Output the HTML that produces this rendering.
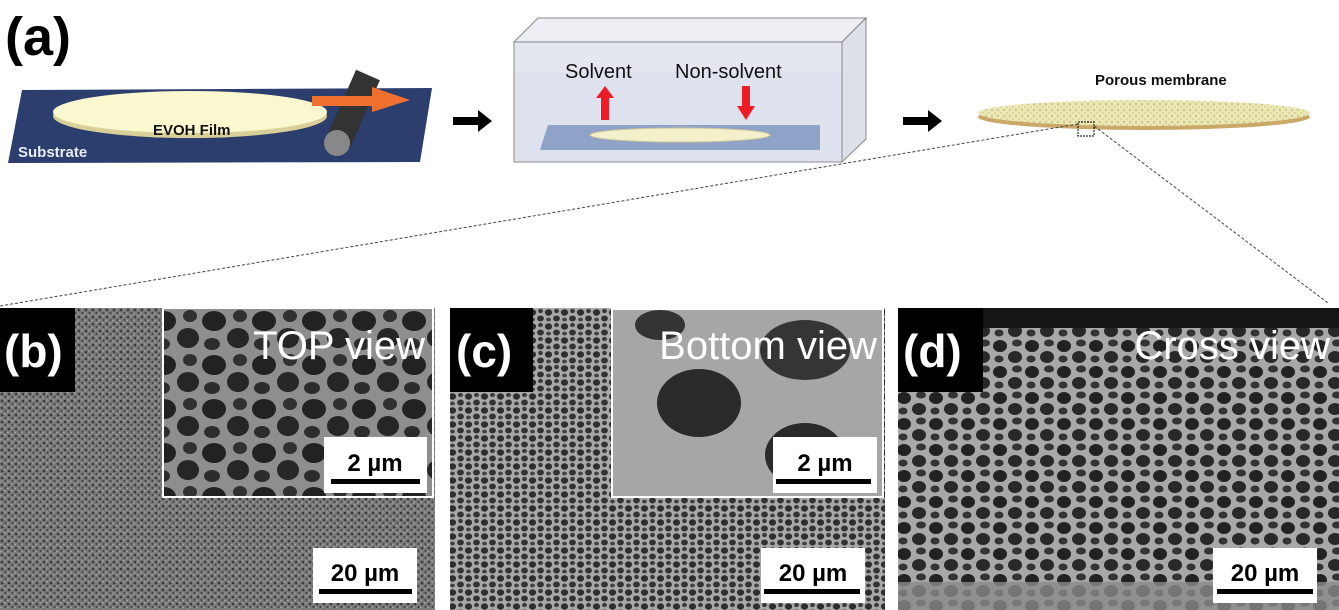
<!DOCTYPE html>
<html><head><meta charset="utf-8"><style>
html,body{margin:0;padding:0;background:#fff;}
svg{display:block}
text{font-family:"Liberation Sans",sans-serif}
</style></head><body>
<svg width="1339" height="610" viewBox="0 0 1339 610" xmlns="http://www.w3.org/2000/svg">
<defs>
<pattern id="fine" width="7" height="7" patternUnits="userSpaceOnUse">
<rect width="7" height="7" fill="#7a7a7a"/>
<circle cx="2" cy="2" r="1.3" fill="#3a3a3a"/><circle cx="5.5" cy="5" r="1.1" fill="#444"/>
<circle cx="5" cy="1" r="0.8" fill="#b0b0b0"/><circle cx="1" cy="5.5" r="0.9" fill="#a5a5a5"/>
</pattern>
<pattern id="cells" width="16" height="14" patternUnits="userSpaceOnUse">
<rect width="16" height="14" fill="#a8a8a8"/>
<ellipse cx="4.5" cy="4.5" rx="3.6" ry="3.2" fill="#2e2e2e"/>
<ellipse cx="12.5" cy="10.5" rx="3.4" ry="3" fill="#333"/>
<ellipse cx="12.5" cy="3" rx="2.4" ry="2.1" fill="#3a3a3a"/>
<ellipse cx="4.5" cy="11.5" rx="2.4" ry="1.9" fill="#404040"/>
</pattern>
<pattern id="big" width="32" height="26" patternUnits="userSpaceOnUse">
<rect width="32" height="26" fill="#a8a8a8"/>
<ellipse cx="8" cy="8" rx="7" ry="6" fill="#222"/>
<ellipse cx="23" cy="19" rx="7" ry="6" fill="#282828"/>
<ellipse cx="25" cy="5" rx="5" ry="3.5" fill="#333"/>
<ellipse cx="7" cy="21" rx="4.5" ry="3.5" fill="#333"/>
</pattern>
<pattern id="top" width="50" height="44" patternUnits="userSpaceOnUse">
<rect width="50" height="44" fill="#8e8e8e"/>
<ellipse cx="14" cy="13" rx="12" ry="10" fill="#222"/>
<ellipse cx="38" cy="30" rx="11" ry="10" fill="#262626"/>
<ellipse cx="40" cy="8" rx="7" ry="6" fill="#303030"/>
<ellipse cx="12" cy="36" rx="8" ry="6" fill="#2c2c2c"/>
</pattern>
<pattern id="mem" width="6" height="6" patternUnits="userSpaceOnUse">
<rect width="6" height="6" fill="#ece8b4"/><circle cx="2" cy="2" r="1.2" fill="#cdc58f"/><circle cx="5" cy="5" r="1" fill="#d8d19c"/>
</pattern>
</defs>

<text x="5" y="55" font-size="54" font-weight="bold" fill="#000">(a)</text>

<polygon points="22,90 432,88 420,162 8,163" fill="#2c3e6e"/>
<ellipse cx="190" cy="116" rx="137" ry="22" fill="#d9cf98"/>
<ellipse cx="190" cy="112" rx="137" ry="21" fill="#fbf8d0"/>
<text x="153" y="135" font-size="15" font-weight="bold" fill="#111">EVOH Film</text>
<text x="18" y="157" font-size="15" font-weight="bold" fill="#e8ecf5">Substrate</text>
<line x1="368" y1="75" x2="338" y2="143" stroke="#333" stroke-width="26"/>
<ellipse cx="337" cy="143" rx="13" ry="13" fill="#888"/>
<polygon points="312,96 372,96 372,87 410,100 372,112 372,106 312,106" fill="#f07030"/>

<polygon points="453,117 478,117 478,110 492,121 478,132 478,125 453,125" fill="#000"/>
<polygon points="903,117 928,117 928,110 942,121 928,132 928,125 903,125" fill="#000"/>

<polygon points="514,42 538,18 866,18 842,42" fill="#eceef4" stroke="#888" stroke-width="1"/>
<polygon points="842,42 866,18 866,139 842,162" fill="#dde0e8" stroke="#888" stroke-width="1"/>
<rect x="514" y="42" width="328" height="120" fill="#e4e7f0" stroke="#888" stroke-width="1"/>
<rect x="515" y="72" width="326" height="89" fill="#dde2ee"/>
<polygon points="548,125 820,125 820,150 540,150" fill="#8fa2c8"/>
<ellipse cx="680" cy="135" rx="90" ry="7" fill="#f4f0cc" stroke="#cfc796"/>
<text x="565" y="78" font-size="20" fill="#111">Solvent</text>
<text x="675" y="78" font-size="20" fill="#111">Non-solvent</text>
<polygon points="601,120 601,98 596,98 605,86 614,98 609,98 609,120" fill="#ee1c24"/>
<polygon points="742,86 742,106 737,106 746,120 755,106 750,106 750,86" fill="#ee1c24"/>

<text x="1095" y="85" font-size="15" font-weight="bold" fill="#111">Porous membrane</text>
<ellipse cx="1144" cy="117" rx="166" ry="13" fill="#c9a868"/>
<ellipse cx="1144" cy="113" rx="166" ry="13" fill="url(#mem)"/>
<rect x="1078" y="122" width="16" height="14" fill="none" stroke="#000" stroke-width="1" stroke-dasharray="2,1"/>
<line x1="1078" y1="124" x2="0" y2="306" stroke="#444" stroke-width="1" stroke-dasharray="3,2"/>
<line x1="1094" y1="126" x2="1328" y2="303" stroke="#444" stroke-width="1" stroke-dasharray="3,2"/>

<rect x="0" y="308" width="435" height="302" fill="url(#fine)"/>
<rect x="163" y="308" width="270" height="189" fill="url(#top)" stroke="#fff" stroke-width="2"/>
<rect x="0" y="308" width="75" height="84" fill="#000"/>
<text x="4" y="367" font-size="46" font-weight="bold" fill="#fff">(b)</text>
<text x="425" y="359" font-size="40" fill="#fff" text-anchor="end">TOP view</text>
<rect x="324" y="437" width="103" height="56" fill="#fff"/>
<text x="375" y="471" font-size="24" font-weight="bold" text-anchor="middle" fill="#000">2 µm</text>
<rect x="331" y="479" width="89" height="5" fill="#000"/>
<rect x="313" y="548" width="104" height="55" fill="#fff"/>
<text x="365" y="581" font-size="24" font-weight="bold" text-anchor="middle" fill="#000">20 µm</text>
<rect x="319" y="589" width="93" height="5" fill="#000"/>

<rect x="450" y="308" width="435" height="302" fill="url(#cells)"/>
<rect x="612" y="309" width="271" height="188" fill="#a6a6a6" stroke="#fff" stroke-width="2"/>
<ellipse cx="699" cy="403" rx="42" ry="34" fill="#2a2a2a"/>
<ellipse cx="805" cy="350" rx="45" ry="30" fill="#353535"/>
<ellipse cx="805" cy="455" rx="40" ry="32" fill="#2a2a2a"/>
<ellipse cx="660" cy="325" rx="25" ry="15" fill="#333"/>
<rect x="450" y="308" width="83" height="84" fill="#000"/>
<text x="456" y="367" font-size="46" font-weight="bold" fill="#fff">(c)</text>
<text x="877" y="359" font-size="40" fill="#fff" text-anchor="end">Bottom view</text>
<rect x="773" y="437" width="104" height="56" fill="#fff"/>
<text x="825" y="471" font-size="24" font-weight="bold" text-anchor="middle" fill="#000">2 µm</text>
<rect x="776" y="479" width="95" height="5" fill="#000"/>
<rect x="761" y="548" width="104" height="55" fill="#fff"/>
<text x="813" y="581" font-size="24" font-weight="bold" text-anchor="middle" fill="#000">20 µm</text>
<rect x="764" y="589" width="96" height="5" fill="#000"/>

<rect x="898" y="308" width="441" height="302" fill="url(#big)"/>
<rect x="898" y="308" width="441" height="20" fill="#151515"/>
<rect x="898" y="582" width="441" height="28" fill="#8a8a8a" opacity="0.8"/>
<rect x="898" y="308" width="85" height="84" fill="#000"/>
<text x="903" y="367" font-size="46" font-weight="bold" fill="#fff">(d)</text>
<text x="1330" y="359" font-size="40" fill="#fff" text-anchor="end">Cross view</text>
<rect x="1213" y="548" width="104" height="55" fill="#fff"/>
<text x="1265" y="581" font-size="24" font-weight="bold" text-anchor="middle" fill="#000">20 µm</text>
<rect x="1217" y="589" width="96" height="5" fill="#000"/>
</svg>
</body></html>
